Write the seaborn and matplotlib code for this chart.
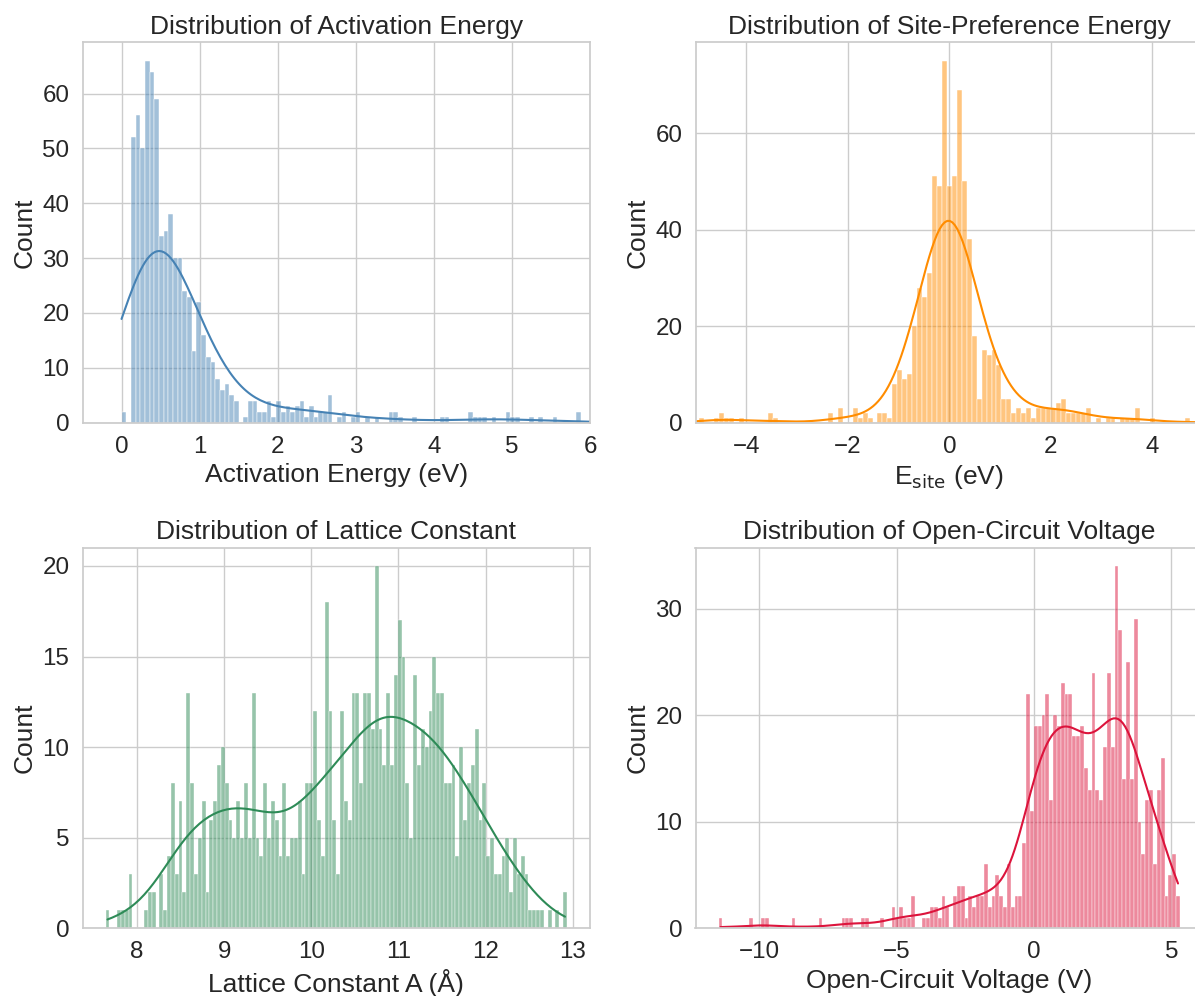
import numpy as np
import matplotlib
matplotlib.use("Agg")
import matplotlib.pyplot as plt
import seaborn as sns

# ---------------- data (histogram bin counts) ----------------
# Panel 1: Activation energy (eV)
ea_bin_start = 0.0
ea_bin_width = 0.06
ea_counts = [2, 0, 52, 56, 50, 66, 64, 59, 34, 35, 38, 30, 30, 24, 23, 13, 22, 16, 12, 11,
             8, 6, 7, 5, 4, 0, 1, 4, 4, 2, 2, 4, 1, 4, 2, 3, 2, 3, 4, 1,
             3, 1, 2, 2, 5, 0, 1, 2, 0, 1, 2, 0, 1, 0, 1, 0, 0, 2, 2, 1,
             0, 0, 1, 0, 0, 0, 0, 0, 1, 1, 0, 0, 0, 0, 2, 1, 1, 1, 0, 1,
             0, 0, 2, 1, 1, 0, 0, 1, 0, 1, 0, 0, 1, 0, 0, 0, 0, 2, 0, 0]

# Panel 2: Site-preference energy (eV)
es_bin_start = -5.029
es_bin_width = 0.0977
es_counts = [0, 1, 0, 0, 1, 2, 1, 1, 0, 1,           # k=-50..-41
             0, 0, 0, 0, 0, 2, 1, 0, 0, 0,           # -40..-31
             0, 0, 0, 0, 0, 0, 0, 2, 0, 3,           # -30..-21
             0, 0, 3, 1, 2, 1, 0, 2, 2, 1,           # -20..-11
             8, 11, 9, 10, 20, 28, 26, 31, 51, 49,   # -10..-1
             75, 49, 51, 69, 50, 38, 18, 5, 15, 14,  # 0..9
             15, 12, 5, 5, 2, 3, 2, 3, 1, 3,         # 10..19
             3, 3, 3, 4, 5, 2, 2, 2, 2, 3,           # 20..29
             0, 1, 0, 1, 1, 0, 1, 1, 1, 3,           # 30..39
             0, 0, 1, 0, 0, 0, 0, 0, 0, 1,           # 40..49
             0]                                      # 50

# Panel 3: Lattice constant A (Angstrom)
lc_bin_start = 7.637
lc_bin_width = 0.04414
lc_counts = [1, 0, 0, 1, 1, 1, 3, 0, 0, 0, 1, 2, 2, 0, 3, 1, 4, 8, 3, 7,
             2, 13, 8, 3, 5, 7, 2, 6, 7, 9, 10, 8, 6, 5, 7, 5, 8, 5, 13, 5,
             4, 8, 5, 7, 6, 4, 8, 4, 5, 5, 7, 3, 8, 8, 12, 6, 4, 18, 12, 6,
             3, 12, 7, 6, 13, 13, 8, 13, 13, 11, 20, 11, 9, 13, 9, 14, 17, 15, 8, 5,
             14, 9, 11, 10, 12, 15, 13, 13, 8, 8, 9, 4, 10, 6, 8, 9, 11, 6, 8, 4,
             5, 3, 3, 4, 5, 2, 5, 3, 4, 3, 1, 1, 1, 1, 0, 1, 0, 1, 0, 2]

# Panel 4: Open-circuit voltage (V)
ocv_bin_start = -11.485
ocv_bin_width = 0.14
ocv_counts = [1, 0, 0, 0, 0, 0, 0, 0, 1, 0, 0, 1, 1, 0, 0, 0, 0, 0, 0, 1,
              0, 0, 0, 0, 0, 0, 1, 0, 0, 0, 0, 0, 1, 1, 1, 0, 0, 1, 1, 0,
              0, 0, 1, 0, 0, 2, 1, 2, 1, 1, 3, 0, 0, 1, 1, 2, 2, 1, 3, 2,
              0, 3, 4, 4, 1, 3, 2, 3, 3, 6, 2, 3, 5, 3, 2, 6, 2, 3, 3, 8,
              22, 11, 19, 19, 20, 22, 12, 20, 19, 23, 22, 22, 18, 18, 19, 15, 13, 24, 13, 12,
              17, 24, 17, 34, 28, 14, 25, 14, 29, 10, 7, 12, 13, 6, 13, 16, 3, 5, 7, 3]

titles = ["Distribution of Activation Energy", "Distribution of Site-Preference Energy",
          "Distribution of Lattice Constant", "Distribution of Open-Circuit Voltage"]
xlabels = ["Activation Energy (eV)", r"E$_{\rm site}$ (eV)",
           "Lattice Constant A (Å)", "Open-Circuit Voltage (V)"]
colors = ["steelblue", "darkorange", "seagreen", "crimson"]

# ---------------- style ----------------
sns.set_theme(style="whitegrid", font_scale=1.58)
plt.rcParams["font.family"] = ["Liberation Sans", "DejaVu Sans"]

W, H = 1195, 996
fig = plt.figure(figsize=(W / 100, H / 100), dpi=100)

def px_axes(x0, x1, ytop, ybot):
    return fig.add_axes([x0 / W, 1 - ybot / H, (x1 - x0) / W, (ybot - ytop) / H])

axes = [
    px_axes(82.5, 590, 42.5, 422.7),
    px_axes(695.5, 1203, 42.5, 422.7),
    px_axes(82.5, 590, 547.8, 928.3),
    px_axes(695.5, 1203, 547.8, 928.3),
]

panels = [
    (ea_bin_start, ea_bin_width, ea_counts, dict(cut=2, clip=(0.0, 6.0), bw_adjust=1.72)),
    (es_bin_start, es_bin_width, es_counts, dict(cut=2, clip=(-5.03, 5.0), bw_adjust=1.66)),
    (lc_bin_start, lc_bin_width, lc_counts, dict()),
    (ocv_bin_start, ocv_bin_width, ocv_counts, dict()),
]

for ax, (start, width, counts, kkw), title, xl, col in zip(axes, panels, titles, xlabels, colors):
    counts = np.asarray(counts)
    edges = start + width * np.arange(len(counts) + 1)
    centers = 0.5 * (edges[:-1] + edges[1:])
    values = np.repeat(centers, counts)
    sns.histplot(x=values, bins=edges, kde=True, color=col, ax=ax, kde_kws=kkw)
    ax.set_title(title)
    ax.set_xlabel(xl)
    ax.set_ylabel("Count")

axes[0].set_xlim(-0.5, 6.0)
axes[1].set_xlim(-5.0, 5.0)
axes[0].xaxis.set_major_locator(matplotlib.ticker.MultipleLocator(1))
axes[0].yaxis.set_major_locator(matplotlib.ticker.MultipleLocator(10))
axes[1].yaxis.set_major_locator(matplotlib.ticker.MultipleLocator(20))
axes[2].xaxis.set_major_locator(matplotlib.ticker.MultipleLocator(1))
axes[2].yaxis.set_major_locator(matplotlib.ticker.MultipleLocator(5))
axes[3].xaxis.set_major_locator(matplotlib.ticker.MultipleLocator(5))
axes[3].yaxis.set_major_locator(matplotlib.ticker.MultipleLocator(10))

fig.savefig("out.png", dpi=100)
